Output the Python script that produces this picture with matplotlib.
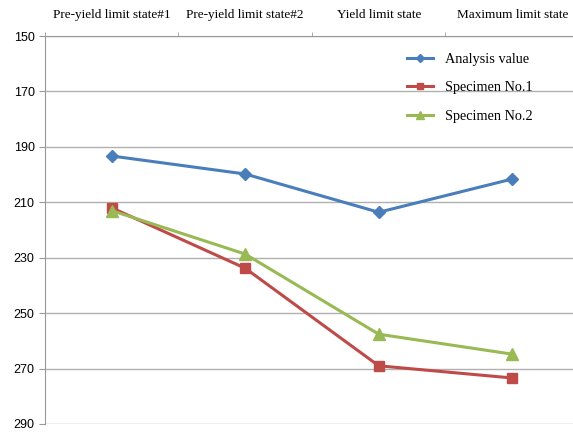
import matplotlib
matplotlib.use("Agg")
import matplotlib.pyplot as plt
import numpy as np

categories = ["Pre-yield limit state#1", "Pre-yield limit state#2",
              "Yield limit state", "Maximum limit state"]
analysis_value = [193.3, 199.8, 213.6, 201.6]
specimen_1 = [212.0, 233.8, 269.0, 273.4]
specimen_2 = [213.0, 228.7, 257.6, 264.8]
y_ticks = [150, 170, 190, 210, 230, 250, 270, 290]

fig = plt.figure(figsize=(5.73, 4.32), dpi=100)
# plot area runs a bit past the right edge of the image, like the original
ax = fig.add_axes([45 / 573, 8 / 432, 534 / 573, 388 / 432])

x = np.arange(len(categories))
ax.plot(x, analysis_value, color="#4a7ebb", lw=2.2, marker="D", ms=6,
        label="Analysis value")
ax.plot(x, specimen_1, color="#be4b48", lw=2.2, marker="s", ms=7,
        label="Specimen No.1")
ax.plot(x, specimen_2, color="#98b954", lw=2.2, marker="^", ms=8,
        label="Specimen No.2")

ax.set_xlim(-0.5, 3.5)
ax.set_ylim(290, 150)
ax.set_yticks(y_ticks)
ax.yaxis.grid(True, color="#b0b0b0", lw=1)
ax.set_axisbelow(True)

# categories along the top, tick marks at the category boundaries
ax.xaxis.tick_top()
ax.set_xticks(x)
ax.set_xticklabels(categories, fontfamily="Liberation Serif", fontsize=9.5)
ax.set_xticks(np.arange(-0.5, 4.0, 1.0), minor=True)
ax.tick_params(axis="x", which="major", length=0, pad=11)
ax.tick_params(axis="x", which="minor", length=3, color="#999999")
ax.tick_params(axis="y", length=4, color="#999999", labelsize=9)
for lbl in ax.get_yticklabels():
    lbl.set_fontfamily("Liberation Sans")

for side in ["right", "bottom"]:
    ax.spines[side].set_visible(False)
for side in ["left", "top"]:
    ax.spines[side].set_color("#999999")

leg = ax.legend(loc="upper left", bbox_to_anchor=(401 / 573, 1 - 47 / 432),
                bbox_transform=fig.transFigure, borderaxespad=0, frameon=False,
                prop={"family": "Liberation Serif", "size": 10.3},
                handlelength=1.85, handletextpad=0.85, labelspacing=1.09,
                markerscale=0.7)

fig.savefig("out.png", dpi=100)
